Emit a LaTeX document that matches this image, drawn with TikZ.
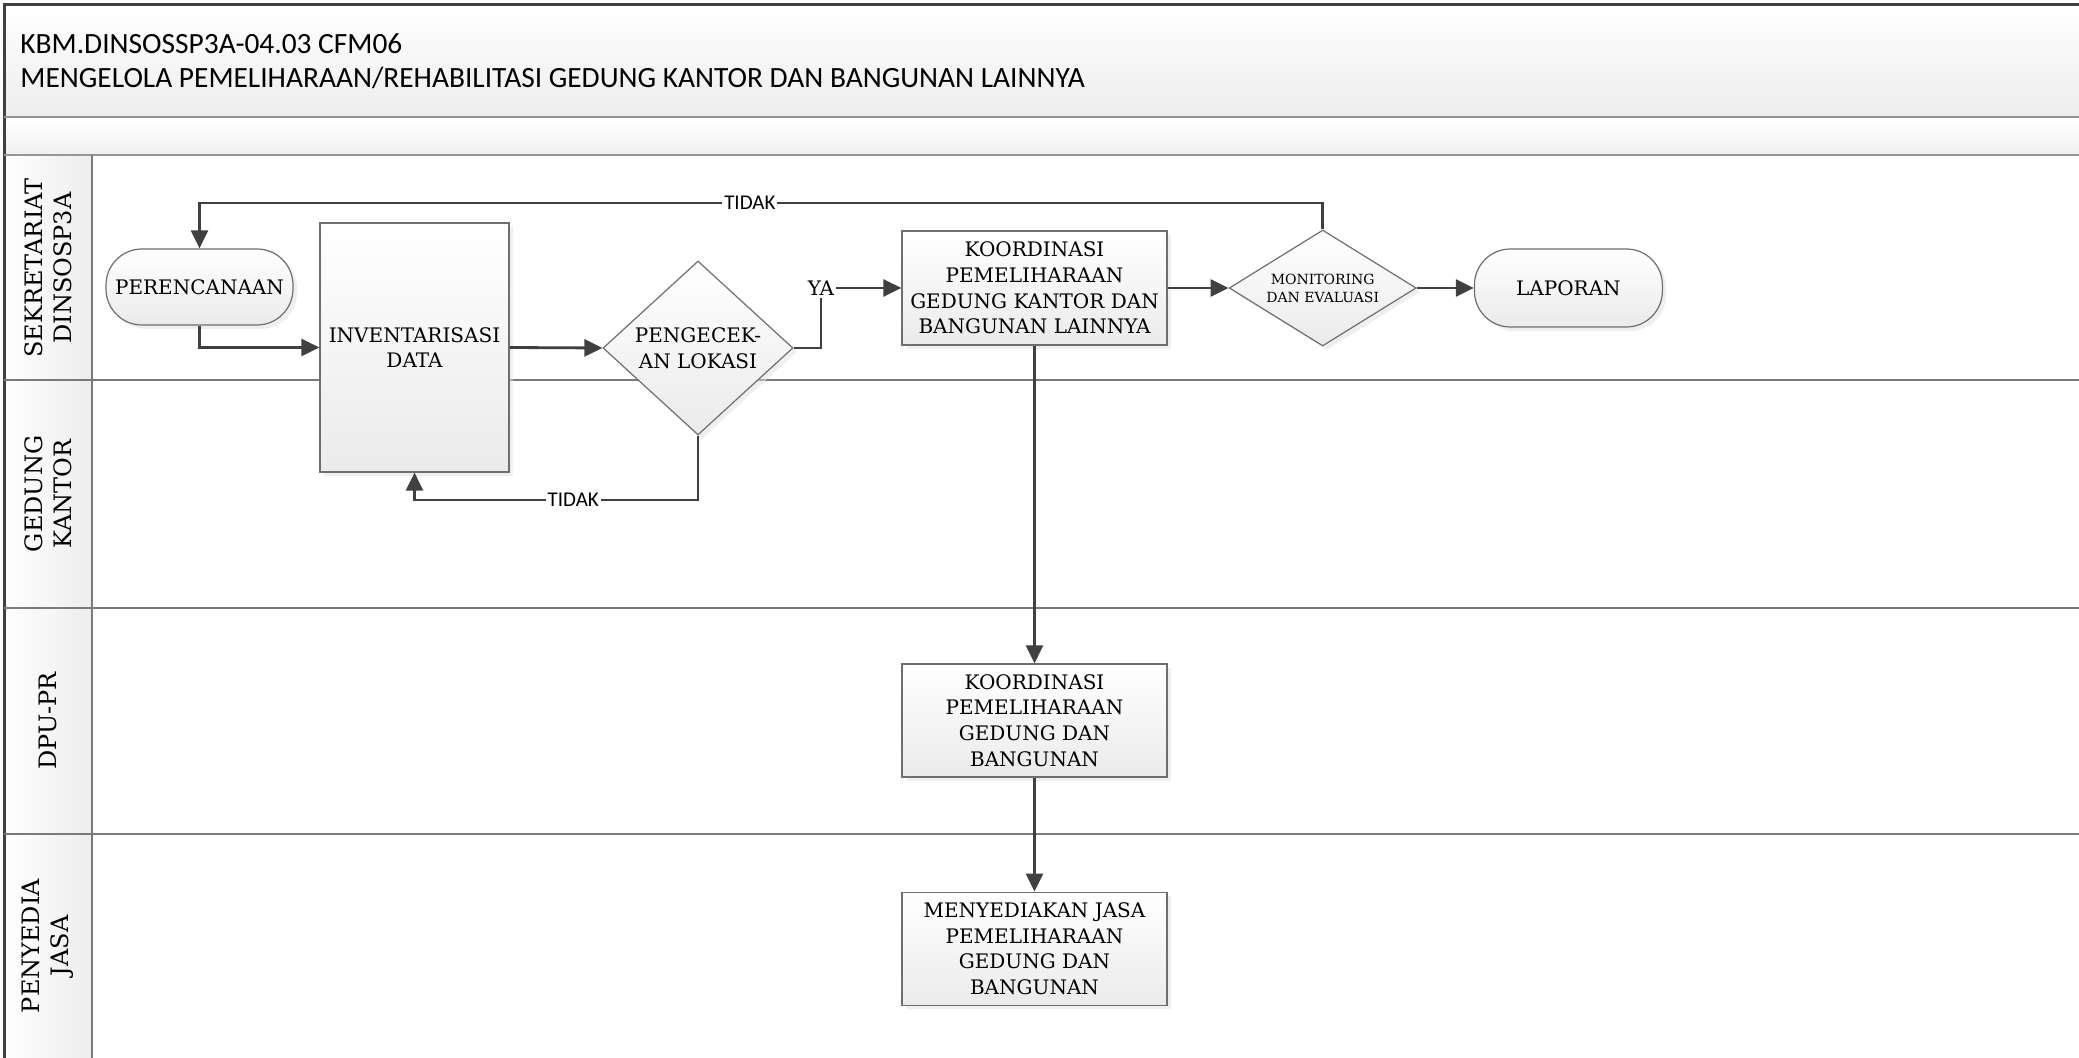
\documentclass[tikz,border=0pt]{standalone}
\usepackage{fontspec}
\setmainfont{DejaVu Serif}
\newfontfamily\titlefont{Carlito}
\usetikzlibrary{arrows.meta,positioning,shapes.geometric,shadows}
\definecolor{lineGray}{HTML}{404040}
\definecolor{laneGray}{HTML}{7A7A7A}
\definecolor{boxGray}{HTML}{6E6E6E}
\tikzset{
  procbox/.style={draw=boxGray, line width=0.6pt, top color=white, bottom color=black!8, drop shadow={shadow xshift=2pt, shadow yshift=-2pt, fill=black!12}, align=center, font=\fontsize{10}{12.8}\selectfont, inner sep=2pt},
  termbox/.style={procbox, rounded corners=18pt},
  decbox/.style={procbox, diamond, inner sep=0pt},
  flowarrow/.style={-{Triangle[length=9pt,width=8.5pt]}, line width=1.4pt, draw=lineGray},
  flowline/.style={line width=1.4pt, draw=lineGray},
  tidaklbl/.style={fill=white, inner sep=1pt, font=\titlefont\fontsize{10.5}{12}\selectfont},
  yalbl/.style={fill=white, inner sep=1pt, font=\fontsize{10}{12}\selectfont},
  lanelbl/.style={rotate=90, align=center, font=\fontsize{12}{14.5}\selectfont},
  titlelbl/.style={anchor=west, inner sep=0pt, font=\titlefont\fontsize{14.7}{17}\selectfont}
}
\begin{document}
\begin{tikzpicture}[x=0.5pt, y=-0.5pt]
\useasboundingbox (0,0) rectangle (2079,1058);
\clip (0,0) rectangle (2079,1058);
\shade[top color=white, bottom color=black!7] (4,5) rectangle (2090,117);
\shade[top color=white, bottom color=black!6] (4,117) rectangle (2090,155);
\shade[left color=white, right color=black!7] (4,155) rectangle (92,1058);
\draw[lineGray, line width=1.5pt] (4,1058) -- (4,5) -- (2090,5);
\draw[laneGray!80, line width=1pt] (4,117) -- (2090,117);
\draw[laneGray!80, line width=1pt] (4,155) -- (2090,155);
\draw[laneGray, line width=0.7pt] (92,155) -- (92,1058);
\foreach \ly in {380,608,834}
  \draw[laneGray, line width=0.8pt] (4,\ly) -- (2090,\ly);

\node[titlelbl] (code) at (20,44) {KBM.DINSOSSP3A-04.03 CFM06};
\node[titlelbl] (title) at (20,78) {MENGELOLA PEMELIHARAAN/REHABILITASI GEDUNG KANTOR DAN BANGUNAN LAINNYA};

\node[lanelbl] (lane1) at (48,268) {SEKRETARIAT\\DINSOSP3A};
\node[lanelbl] (lane2) at (48,494) {GEDUNG\\KANTOR};
\node[lanelbl] (lane3) at (48,721) {DPU-PR};
\node[lanelbl] (lane4) at (48,946) {PENYEDIA\\JASA};

\node[termbox, minimum width=93.5pt, minimum height=38pt] (plan) at (199.5,287) {PERENCANAAN};
\node[procbox, minimum width=94.5pt, minimum height=124.5pt] (inv) at (414.5,347.5) {INVENTARISASI\\DATA};
\node[decbox, aspect=1.1, minimum width=95pt, minimum height=87pt] (cek) at (698,348) {PENGECEK-\\AN LOKASI};
\node[procbox, minimum width=132.5pt, minimum height=57pt] (koord) at (1034.5,288) {KOORDINASI\\PEMELIHARAAN\\GEDUNG KANTOR DAN\\BANGUNAN LAINNYA};
\node[decbox, aspect=1.6, minimum width=93.5pt, minimum height=58pt, font=\fontsize{7}{9}\selectfont, right=30.5pt of koord] (monev) {MONITORING\\DAN EVALUASI};
\node[termbox, minimum width=94pt, minimum height=39pt, right=28.5pt of monev] (lap) {LAPORAN};
\node[procbox, minimum width=132.5pt, minimum height=56.5pt] (dpu) at (1034.5,720.5) {KOORDINASI\\PEMELIHARAAN\\GEDUNG DAN\\BANGUNAN};
\node[procbox, minimum width=132.5pt, minimum height=56.5pt, below=57pt of dpu] (jasa) {MENYEDIAKAN JASA\\PEMELIHARAAN\\GEDUNG DAN\\BANGUNAN};

\node[yalbl] (ya) at (821,288) {YA};
\coordinate (topY) at (0,203);
\coordinate (botY) at (0,500);

\draw[flowarrow] (plan.south) |- (inv.west);
\draw[flowarrow] (inv.east) -- (cek.west);
\draw[flowline] (cek.east) -| (ya.south);
\draw[flowarrow] (ya.east) -- (koord.west);
\draw[flowarrow] (koord.east) -- (monev.west);
\draw[flowarrow] (monev.east) -- (lap.west);
\draw[flowarrow] (monev.north) -- (monev.north |- topY) -| node[tidaklbl, pos=0.255] (tidak1) {TIDAK} (plan.north);
\draw[flowarrow] (cek.south) -- (cek.south |- botY) -| node[tidaklbl, pos=0.22] (tidak2) {TIDAK} (inv.south);
\draw[flowarrow] (koord.south) -- (dpu.north);
\draw[flowarrow] (dpu.south) -- (jasa.north);
\end{tikzpicture}
\end{document}
